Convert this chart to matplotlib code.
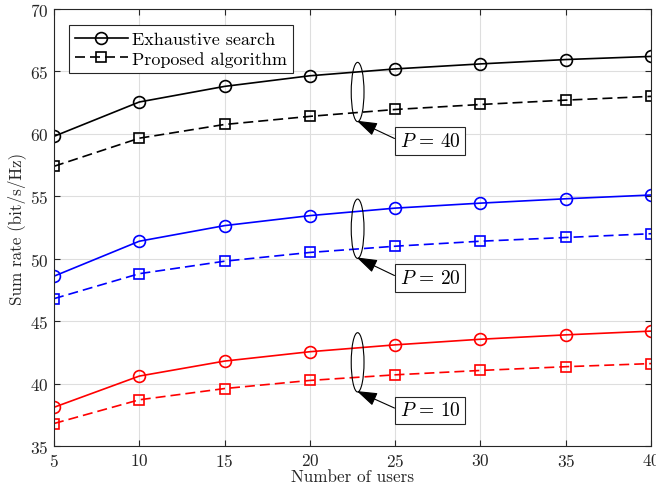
import numpy as np
import matplotlib
matplotlib.use("Agg")
import matplotlib.pyplot as plt
from matplotlib.patches import Ellipse

plt.rcParams['font.family'] = ['cmr10', 'DejaVu Serif']
plt.rcParams['mathtext.fontset'] = 'cm'
plt.rcParams['axes.formatter.use_mathtext'] = True

users = [5, 10, 15, 20, 25, 30, 35, 40]

exh_40 = [59.8, 62.55, 63.8, 64.65, 65.2, 65.6, 65.95, 66.2]
prop_40 = [57.4, 59.65, 60.75, 61.4, 61.95, 62.35, 62.7, 63.0]
exh_20 = [48.6, 51.4, 52.65, 53.45, 54.05, 54.45, 54.8, 55.1]
prop_20 = [46.8, 48.8, 49.8, 50.5, 51.0, 51.4, 51.7, 52.0]
exh_10 = [38.1, 40.6, 41.8, 42.55, 43.1, 43.55, 43.9, 44.2]
prop_10 = [36.8, 38.7, 39.6, 40.25, 40.7, 41.05, 41.35, 41.6]

powers = [40, 20, 10]
colors = ['k', 'b', 'r']

fig = plt.figure(figsize=(6.56, 4.89), dpi=100)
ax = fig.add_axes([0.0823, 0.0859, 0.9101, 0.8937])

series = [(exh_40, prop_40), (exh_20, prop_20), (exh_10, prop_10)]
for (e, p), c in zip(series, colors):
    ax.plot(users, e, '-', color=c, marker='o', markersize=8.5, mfc='none', lw=1.2, mew=1.2)
    ax.plot(users, p, '--', color=c, marker='s', markersize=7, mfc='none', lw=1.2, mew=1.2,
            dashes=(6, 3))

# legend proxies (black)
h1, = ax.plot([], [], '-', color='k', marker='o', markersize=8.5, mfc='none', lw=1.2, mew=1.2)
h2, = ax.plot([], [], '--', color='k', marker='s', markersize=7, mfc='none', lw=1.2, mew=1.2,
              dashes=(6, 3))
leg = ax.legend([h1, h2], ['Exhaustive search', 'Proposed algorithm'], loc='upper left',
                bbox_to_anchor=(0.016, 0.975), fontsize=13, fancybox=False, framealpha=1,
                edgecolor='0.15', handlelength=2.9, borderpad=0.35, labelspacing=0.2,
                handletextpad=0.25, borderaxespad=0.3)
leg.get_frame().set_linewidth(0.8)

# ellipses and annotations
ell_y = [63.35, 52.4, 41.7]
box_y = [59.43, 48.45, 37.85]
for p, ey, by in zip(powers, ell_y, box_y):
    ax.add_patch(Ellipse((22.8, ey), 0.75, 4.75, fill=False, ec='k', lw=0.8, zorder=5))
    ax.annotate(r'$P\,=\,%d$' % p, xy=(22.75, ey - 2.3), xytext=(27.05, by),
                fontsize=14, ha='center', va='center',
                bbox=dict(boxstyle='square,pad=0.25', fc='white', ec='0.15', lw=0.8),
                arrowprops=dict(arrowstyle='-|>,head_length=0.9,head_width=0.3',
                                color='k', lw=0.8, shrinkA=0, shrinkB=0,
                                relpos=(0, 0.5)))

ax.set_xlim(5, 40)
ax.set_ylim(35, 70)
ax.set_xticks(users)
ax.set_yticks(np.arange(35, 71, 5))
ax.set_xlabel('Number of users', fontsize=12.3, color='0.15', labelpad=0)
ax.set_ylabel('Sum rate (bit/s/Hz)', fontsize=12.3, color='0.15', labelpad=3)
ax.grid(True, color='0.87', lw=0.8)
ax.set_axisbelow(True)
ax.tick_params(direction='in', top=True, right=True, labelsize=12.5, colors='0.15',
               length=4, width=0.8, pad=4)
for s in ax.spines.values():
    s.set_color('0.15')
    s.set_linewidth(0.8)

fig.savefig('out.png', dpi=100)
